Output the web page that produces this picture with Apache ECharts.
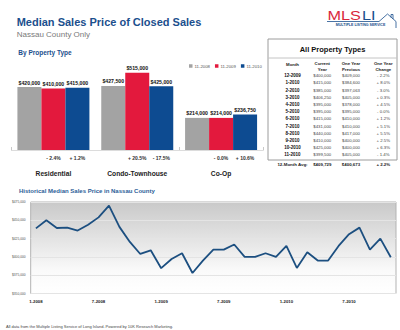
<!DOCTYPE html>
<html>
<head>
<meta charset="utf-8">
<title>Median Sales Price of Closed Sales</title>
<script src="https://cdn.jsdelivr.net/npm/echarts/dist/echarts.min.js"></script>
<style>
  html, body { margin: 0; padding: 0; background: #ffffff; }
  #chart { width: 400px; height: 330px; }
</style>
</head>
<body>
<div id="chart"></div>
<script>
// Median price by property type, November of each year
const propertyTypes = ['Residential', 'Condo-Townhouse', 'Co-Op'];
const periodNames = ['11-2008', '11-2009', '11-2010'];
const price2008 = [420000, 427500, 214000];
const price2009 = [410000, 515000, 214000];
const price2010 = [415000, 425000, 236750];
const change2009 = [-2.4, 20.5, -0.0];
const change2010 = [1.2, -17.5, 10.6];

// All property types, last twelve months
const tableMonths = ['12-2009', '1-2010', '2-2010', '3-2010', '4-2010', '5-2010',
  '6-2010', '7-2010', '8-2010', '9-2010', '10-2010', '11-2010'];
const tableCurrent = [400000, 415000, 385000, 406250, 395000, 395000,
  415000, 431000, 440000, 410000, 425000, 399500];
const tablePrevious = [409000, 384600, 397063, 405000, 378000, 395000,
  410000, 410000, 417000, 400000, 400000, 405000];
const tableChange = [-2.2, 8.0, -3.0, 0.3, 4.5, -0.0, 1.2, 5.1, 5.5, 2.5, 6.3, -1.4];
const tableHeaders = [['Month'], ['Current', 'Year'], ['One Year', 'Previous'], ['One Year', 'Change']];
const averageRow = ['12-Month Avg:', 409729, 400673, 2.2];

// Historical monthly median, Nassau County
const historyMonths = [
  '1-2008', '2-2008', '3-2008', '4-2008', '5-2008', '6-2008', '7-2008', '8-2008', '9-2008', '10-2008', '11-2008', '12-2008',
  '1-2009', '2-2009', '3-2009', '4-2009', '5-2009', '6-2009', '7-2009', '8-2009', '9-2009', '10-2009', '11-2009', '12-2009',
  '1-2010', '2-2010', '3-2010', '4-2010', '5-2010', '6-2010', '7-2010', '8-2010', '9-2010', '10-2010', '11-2010'];
const historyPrices = [
  439000, 450000, 439500, 440000, 436000, 444000, 454000, 470000, 441000, 420500, 404000, 409000,
  384600, 397063, 405000, 378000, 395000, 410000, 410000, 417000, 400000, 400000, 405000, 400000,
  415000, 385000, 406250, 395000, 395000, 415000, 431000, 440000, 410000, 425000, 399500];
const historyTickMonths = ['1-2008', '7-2008', '1-2009', '7-2009', '1-2010', '7-2010'];
const historyPriceTicks = [350000, 375000, 400000, 425000, 450000, 475000];

const FONT = '"Liberation Sans", Arial, sans-serif';
const BLUE = '#1b4f8d';
const barColors = ['#a3a3a3', '#e3193d', '#0d4b91'];

const money = v => '$' + v.toLocaleString('en-US');
const signed = v => ((v < 0 || Object.is(v, -0)) ? '- ' : '+ ') + Math.abs(v).toFixed(1) + '%';

// ---- summary table (right side) ----
const colX = [292.5, 322.3, 351, 383.3];
const tableGraphics = [];
tableGraphics.push({
  type: 'rect', shape: { x: 268, y: 39, width: 129, height: 121 },
  style: { fill: '#fff', stroke: '#9c9c9c', lineWidth: 1 }, z: 1
});
tableGraphics.push({
  type: 'text', x: 332.5, y: 49, z: 2,
  style: { text: 'All Property Types', font: 'bold 7.5px ' + FONT, fill: '#111', align: 'center', verticalAlign: 'middle' }
});
tableGraphics.push({
  type: 'line', shape: { x1: 268, y1: 58, x2: 397, y2: 58 }, z: 2,
  style: { stroke: '#c4c4c4', lineWidth: 1 }
});
tableHeaders.forEach((lines, c) => {
  lines.forEach((t, k) => {
    const y = lines.length === 1 ? 64.5 : 63.5 + k * 6;
    tableGraphics.push({
      type: 'text', x: colX[c], y: y, z: 2,
      style: { text: t, font: 'bold 4.3px ' + FONT, fill: '#222', align: 'center', verticalAlign: 'middle' }
    });
  });
});
tableMonths.forEach((m, i) => {
  const y = 75.7 + i * 7.2;
  const cells = [m, money(tableCurrent[i]), money(tablePrevious[i]), signed(tableChange[i])];
  cells.forEach((t, c) => {
    tableGraphics.push({
      type: 'text', x: colX[c], y: y, z: 2,
      style: {
        text: t, font: (c === 0 ? 'bold 4.5px ' : '4.3px ') + FONT,
        fill: c === 0 ? '#111' : '#444', align: 'center', verticalAlign: 'middle'
      }
    });
  });
});
[averageRow[0], money(averageRow[1]), money(averageRow[2]), signed(averageRow[3])].forEach((t, c) => {
  tableGraphics.push({
    type: 'text', x: colX[c], y: 164.5, z: 2,
    style: { text: t, font: 'bold 4.4px ' + FONT, fill: '#222', align: 'center', verticalAlign: 'middle' }
  });
});

// ---- headings, logo, footer ----
const pageGraphics = [
  { type: 'text', x: 16.7, y: 21.8,
    style: { text: 'Median Sales Price of Closed Sales', font: 'bold 11px ' + FONT, fill: BLUE, verticalAlign: 'middle' } },
  { type: 'text', x: 16.7, y: 34,
    style: { text: 'Nassau County Only', font: '8px ' + FONT, fill: '#7a7a7a', verticalAlign: 'middle' } },
  { type: 'text', x: 18.3, y: 52.7,
    style: { text: 'By Property Type', font: 'bold 6.5px ' + FONT, fill: BLUE, verticalAlign: 'middle' } },
  { type: 'text', x: 19, y: 190.7,
    style: { text: 'Historical Median Sales Price in Nassau County', font: 'bold 6px ' + FONT, fill: '#2d6098', verticalAlign: 'middle' } },
  { type: 'text', x: 6, y: 326.3,
    style: { text: 'All data from the Multiple Listing Service of Long Island. Powered by 10K Research Marketing.',
      font: '4px ' + FONT, fill: '#444', verticalAlign: 'middle' } },
  // MLSLI logo
  { type: 'text', x: 327.5, y: 15.8, scaleX: 1.3,
    style: { text: 'MLS', font: '12.5px ' + FONT, fill: '#d9263b', verticalAlign: 'middle' } },
  { type: 'text', x: 362, y: 15.8, scaleX: 1.3,
    style: { text: 'LI', font: '12.5px ' + FONT, fill: BLUE, verticalAlign: 'middle' } },
  { type: 'polyline', shape: { points: [[327, 21.5], [379, 21.5], [387.5, 14], [396, 21.5], [396, 28]] },
    style: { stroke: BLUE, lineWidth: 0.8, fill: null } },
  { type: 'polyline', shape: { points: [[391, 17.5], [391, 14.5], [393, 14.5], [393, 19]] },
    style: { stroke: BLUE, lineWidth: 0.8, fill: null } },
  { type: 'text', x: 360.5, y: 24.8,
    style: { text: 'MULTIPLE LISTING SERVICE', font: 'bold 3.6px ' + FONT, fill: BLUE, align: 'center', verticalAlign: 'middle' } }
];

const chart = echarts.init(document.getElementById('chart'), null, { renderer: 'svg' });

const barSeries = [price2008, price2009, price2010].map((values, k) => ({
  name: periodNames[k],
  type: 'bar',
  xAxisIndex: 0,
  yAxisIndex: 0,
  barWidth: 24,
  barGap: '0%',
  data: values,
  itemStyle: { color: barColors[k] },
  label: {
    show: true, position: 'top', distance: 2,
    formatter: p => money(p.value),
    fontSize: 5.2, fontWeight: 'bold', color: '#111', fontFamily: FONT
  }
}));

chart.setOption({
  animation: false,
  textStyle: { fontFamily: FONT },
  legend: {
    data: periodNames,
    left: 189, top: 64, padding: 0,
    itemWidth: 3.5, itemHeight: 3.5, itemGap: 5,
    icon: 'rect',
    textStyle: { fontSize: 4.3, color: '#555', padding: [0, 0, 0, -3] }
  },
  grid: [
    { left: 11.5, right: 137, top: 60, bottom: 180 },
    {
      left: 30.7, right: 4, top: 202, bottom: 36.5, show: true,
      borderColor: '#b3b3b3', borderWidth: 1,
      backgroundColor: new echarts.graphic.LinearGradient(0, 0, 0, 1, [
        { offset: 0, color: '#c9c9c9' },
        { offset: 0.75, color: '#fafafa' },
        { offset: 1, color: '#ffffff' }
      ])
    }
  ],
  xAxis: [
    {
      gridIndex: 0, type: 'category', data: propertyTypes, position: 'bottom', offset: 15,
      axisLine: { lineStyle: { color: '#c8c8c8', width: 1 } },
      axisTick: { show: true, inside: true, length: 3, lineStyle: { color: '#c8c8c8' } },
      axisLabel: { show: false }
    },
    {
      gridIndex: 0, type: 'category', data: propertyTypes, position: 'bottom',
      axisLine: { lineStyle: { color: '#dcdcdc', width: 1 } },
      axisTick: { show: false },
      axisLabel: {
        interval: 0, margin: 0.5,
        formatter: (value, i) => `{gap| }{pct|${signed(change2009[i])}}{pct|${signed(change2010[i])}}\n{cat|${value}}`,
        rich: {
          gap: { width: 24, lineHeight: 15 },
          pct: { width: 24, align: 'center', fontSize: 5, fontWeight: 'bold', color: '#333', lineHeight: 15 },
          cat: { fontSize: 6.7, fontWeight: 'bold', color: '#222', lineHeight: 15 }
        }
      }
    },
    {
      gridIndex: 1, type: 'category', data: historyMonths, boundaryGap: true,
      axisLine: { show: false }, axisTick: { show: false },
      axisLabel: {
        interval: (i, v) => historyTickMonths.includes(v),
        fontSize: 4.3, fontWeight: 'bold', color: '#222', margin: 6
      }
    }
  ],
  yAxis: [
    { gridIndex: 0, type: 'value', min: 0, max: 600000, show: false },
    {
      gridIndex: 1, type: 'value',
      min: historyPriceTicks[0], max: historyPriceTicks[historyPriceTicks.length - 1],
      interval: historyPriceTicks[1] - historyPriceTicks[0],
      axisLine: { show: false }, axisTick: { show: false },
      axisLabel: { fontSize: 3.3, color: '#555', margin: 5, formatter: v => money(v) },
      splitLine: { lineStyle: { color: '#e4e4e4', width: 1 } }
    }
  ],
  series: barSeries.concat([{
    name: 'Historical Median',
    type: 'line',
    xAxisIndex: 2,
    yAxisIndex: 1,
    data: historyPrices,
    symbol: 'none',
    lineStyle: { color: '#1c4f80', width: 1.8 },
    z: 3
  }]),
  graphic: pageGraphics.concat(tableGraphics)
});
</script>
</body>
</html>
